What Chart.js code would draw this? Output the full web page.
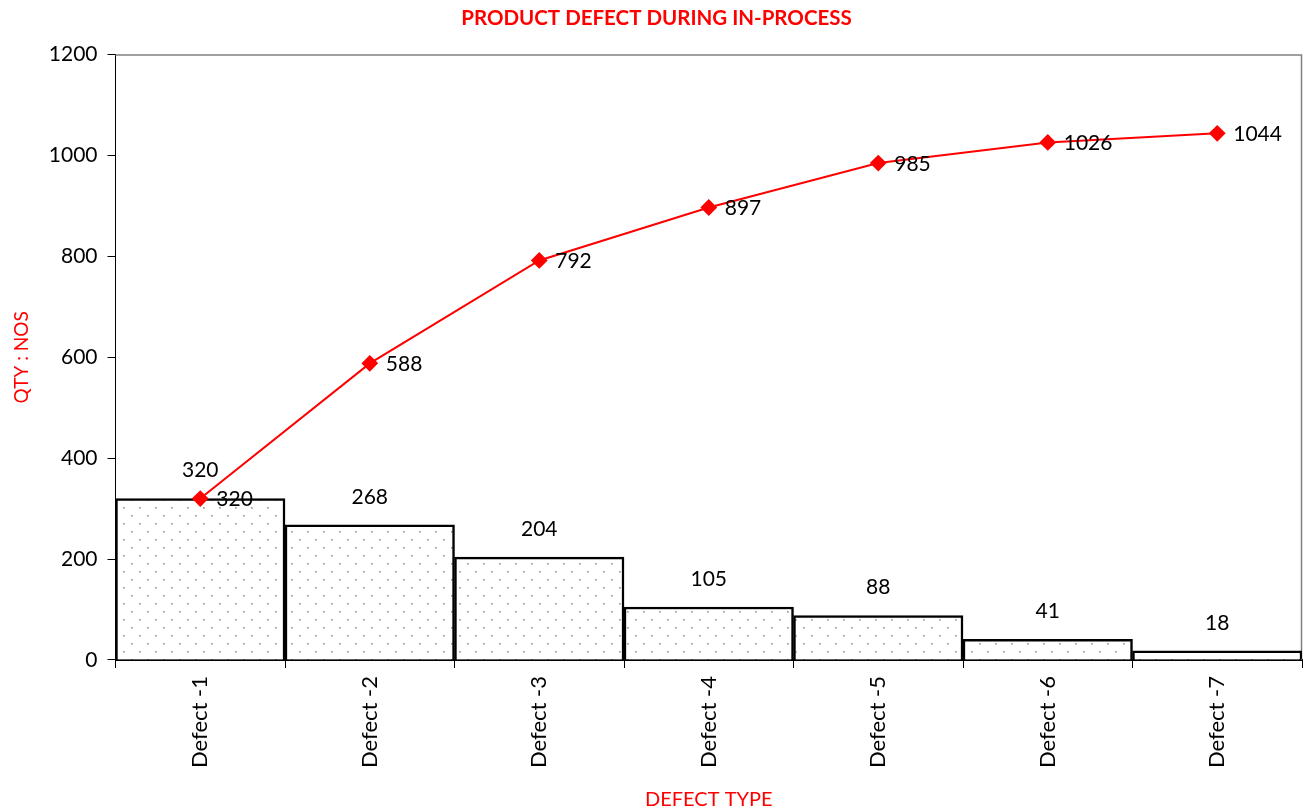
<!DOCTYPE html>
<html>
<head>
<meta charset="utf-8">
<script src="https://cdn.jsdelivr.net/npm/chart.js@4/dist/chart.umd.min.js"></script>
<style>
  html, body { margin: 0; padding: 0; background: #fff; }
  #wrap { width: 1311px; height: 812px; }
</style>
</head>
<body>
<div id="wrap"><canvas id="chart"></canvas></div>
<script>
// chart data
const categories = ['Defect -1', 'Defect -2', 'Defect -3', 'Defect -4', 'Defect -5', 'Defect -6', 'Defect -7']
const defectQty = [320, 268, 204, 105, 88, 41, 18]
const cumulativeQty = [320, 588, 792, 897, 985, 1026, 1044]
const yTicks = [0, 200, 400, 600, 800, 1000, 1200]

const FONT = 'Lato, "Liberation Sans", sans-serif'

// dotted fill like the excel pattern
function dotPattern() {
    let c = document.createElement('canvas')
    c.width = 16
    c.height = 16
    let g = c.getContext('2d')
    g.fillStyle = '#ffffff'
    g.fillRect(0, 0, 16, 16)
    g.fillStyle = '#c4c4c4'
    g.fillRect(3, 3, 2, 2)
    g.fillRect(11, 11, 2, 2)
    g.fillStyle = '#999999'
    g.fillRect(3, 3, 1, 1)
    g.fillRect(11, 11, 1, 1)
    return g.createPattern(c, 'repeat')
}

// gray frame on top and right of plot area
let frame = {
    id: 'frame',
    beforeDatasetsDraw(chart) {
        let a = chart.chartArea
        let ctx = chart.ctx
        ctx.save()
        ctx.strokeStyle = '#808080'
        ctx.lineWidth = 1.5
        ctx.beginPath()
        ctx.moveTo(a.left, a.top + 0.5)
        ctx.lineTo(a.right - 0.5, a.top + 0.5)
        ctx.lineTo(a.right - 0.5, a.bottom)
        ctx.stroke()
        ctx.restore()
    }
}

// value labels: above bars, right of line points
let valueLabels = {
    id: 'valueLabels',
    afterDatasetsDraw(chart) {
        let ctx = chart.ctx
        ctx.save()
        ctx.font = '21px ' + FONT
        ctx.fillStyle = '#000'
        ctx.textBaseline = 'middle'
        let bars = chart.getDatasetMeta(0).data
        ctx.textAlign = 'center'
        bars.forEach((el, i) => {
            ctx.fillText(String(defectQty[i]), el.x, el.y - 28)
        })
        let pts = chart.getDatasetMeta(1).data
        ctx.textAlign = 'left'
        pts.forEach((el, i) => {
            ctx.fillText(String(cumulativeQty[i]), el.x + 16, el.y + 1)
        })
        ctx.restore()
    }
}

let ctx = document.getElementById('chart')
new Chart(ctx, {
    data: {
        labels: categories,
        datasets: [{
            type: 'bar',
            data: defectQty,
            backgroundColor: dotPattern(),
            borderColor: '#000',
            borderWidth: 2.5,
            barPercentage: 1,
            categoryPercentage: 1,
            order: 2
        }, {
            type: 'line',
            data: cumulativeQty,
            borderColor: '#ff0000',
            borderWidth: 2,
            pointStyle: 'rectRot',
            pointRadius: 7,
            pointBackgroundColor: '#ff0000',
            pointBorderColor: '#ff0000',
            tension: 0,
            order: 1
        }]
    },
    options: {
        responsive: true,
        maintainAspectRatio: false,
        animation: false,
        layout: { padding: { left: 10, right: 8, top: 4, bottom: 0 } },
        plugins: {
            legend: { display: false },
            tooltip: { enabled: false },
            title: {
                display: true,
                text: 'PRODUCT DEFECT DURING IN-PROCESS',
                color: '#ff0000',
                font: { family: FONT, size: 20.5, weight: 'bold' },
                padding: { top: 2, bottom: 24 }
            }
        },
        scales: {
            x: {
                offset: true,
                grid: {
                    offset: true,
                    drawOnChartArea: false,
                    drawTicks: true,
                    tickLength: 8,
                    color: '#000'
                },
                border: { color: '#000', width: 2 },
                ticks: {
                    color: '#000',
                    font: { family: FONT, size: 22 },
                    minRotation: 90,
                    maxRotation: 90,
                    padding: 8
                },
                title: {
                    display: true,
                    text: 'DEFECT TYPE',
                    color: '#ff0000',
                    font: { family: FONT, size: 20 },
                    padding: { top: 12, bottom: 0 }
                }
            },
            y: {
                min: 0,
                max: 1200,
                afterBuildTicks: axis => { axis.ticks = yTicks.map(v => ({ value: v })) },
                grid: {
                    drawOnChartArea: false,
                    drawTicks: true,
                    tickLength: 8,
                    color: '#000'
                },
                border: { color: '#000', width: 1 },
                ticks: {
                    color: '#000',
                    font: { family: FONT, size: 21 },
                    padding: 10,
                    callback: v => String(v)
                },
                title: {
                    display: true,
                    text: 'QTY : NOS',
                    color: '#ff0000',
                    font: { family: FONT, size: 19 },
                    padding: { top: 0, bottom: 6 }
                }
            }
        }
    },
    plugins: [frame, valueLabels]
})
</script>
</body>
</html>
